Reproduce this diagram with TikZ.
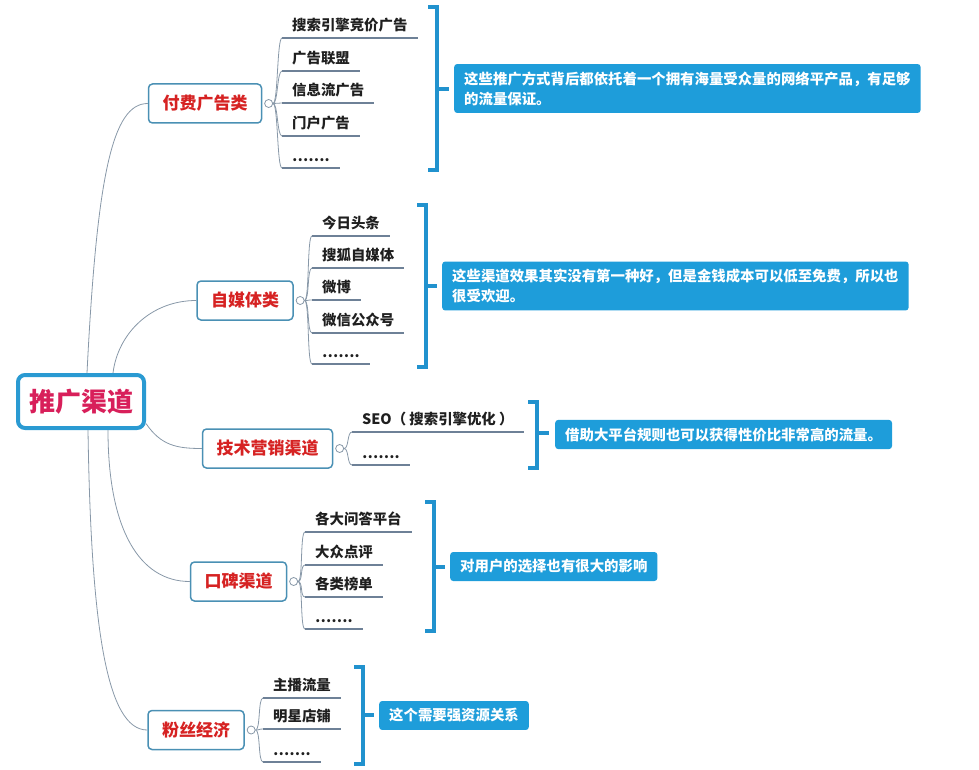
\documentclass[tikz,border=0pt]{standalone}
\usepackage{fontspec}
\setmainfont{Noto Sans CJK SC}
\usetikzlibrary{positioning}

\definecolor{rootblue}{HTML}{2A9AD2}
\definecolor{rootred}{HTML}{D81F5A}
\definecolor{boxline}{HTML}{4A90B4}
\definecolor{branchred}{HTML}{D62222}
\definecolor{linkgray}{HTML}{8898A8}
\definecolor{ulinegray}{HTML}{6E8197}
\definecolor{noteblue}{HTML}{1E9DDA}
\definecolor{braceblue}{HTML}{2192CE}

\tikzset{
  topic/.style={draw=rootblue, line width=4pt, rounded corners=7pt, fill=white,
    text=rootred, font=\fontsize{26}{30}\selectfont\bfseries,
    minimum width=126pt, minimum height=53pt},
  branch/.style={draw=boxline, line width=1.5pt, rounded corners=4pt, fill=white,
    text=branchred, font=\fontsize{17}{20}\selectfont\bfseries,
    inner xsep=14pt, minimum height=39pt},
  knob/.style={circle, draw=linkgray, fill=white, line width=0.8pt,
    minimum size=8pt, inner sep=0pt},
  leaf/.style={anchor=south west, inner xsep=10pt, inner ysep=6pt,
    font=\fontsize{14.4}{16}\selectfont\bfseries, text=black!88},
  uline/.style={draw=ulinegray, line width=2.7pt},
  link/.style={draw=linkgray, line width=0.8pt},
  bracket/.style={draw=braceblue, line width=4pt},
  note/.style={anchor=west, fill=noteblue, rounded corners=3pt, text=white,
    font=\fontsize{14.4}{20}\selectfont\bfseries, align=left,
    inner xsep=10pt, inner ysep=7.5pt}
}

\begin{document}
\begin{tikzpicture}[x=1pt, y=-1pt]
    \useasboundingbox (0,0) rectangle (979,770);

    % centre
    \node[topic] (root) at (81,401.5) {推广渠道};

    % branches
    \node[branch] (pay) at (205,103.5) {付费广告类};
    \node[branch] (media) at (245,300.5) {自媒体类};
    \node[branch] (tech) at (267.5,448.5) {技术营销渠道};
    \node[branch] (word) at (238.5,581.5) {口碑渠道};
    \node[branch] (fans) at (196,730) {粉丝经济};

    \node[knob, right=2pt of pay] (payk) { };
    \node[knob, right=2pt of media] (mediak) { };
    \node[knob, right=2pt of tech] (techk) { };
    \node[knob, right=2pt of word] (wordk) { };
    \node[knob, right=2pt of fans] (fansk) { };

    \draw[link] ([xshift=6pt]root.north) .. controls +(10,-200) and +(-35,0) .. (pay.west);
    \draw[link] ([xshift=32pt]root.north) .. controls +(5,-40) and +(-45,0) .. (media.west);
    \draw[link] ([yshift=-22pt]root.east) .. controls +(15,22) and +(-25,0) .. (tech.west);
    \draw[link] ([xshift=27pt]root.south) .. controls +(0,100) and +(-50,0) .. (word.west);
    \draw[link] ([xshift=7pt]root.south) .. controls +(3,200) and +(-40,0) .. (fans.west);

    % leaves
    \node[leaf] (pay1) at (282,38) {搜索引擎竞价广告};
    \node[leaf] (pay2) at (282,71) {广告联盟};
    \node[leaf] (pay3) at (282,103) {信息流广告};
    \node[leaf] (pay4) at (282,136) {门户广告};
    \node[leaf] (pay5) at (282,168) {…….};

    \node[leaf] (media1) at (312,236) {今日头条};
    \node[leaf] (media2) at (312,268) {搜狐自媒体};
    \node[leaf] (media3) at (312,300) {微博};
    \node[leaf] (media4) at (312,333) {微信公众号};
    \node[leaf] (media5) at (312,364) {…….};

    \node[leaf] (tech1) at (352,432) {SEO（ 搜索引擎优化 ）};
    \node[leaf] (tech2) at (352,465) {…….};

    \node[leaf] (word1) at (305,532) {各大问答平台};
    \node[leaf] (word2) at (305,565) {大众点评};
    \node[leaf] (word3) at (305,597) {各类榜单};
    \node[leaf] (word4) at (305,629) {…….};

    \node[leaf] (fans1) at (263,698) {主播流量};
    \node[leaf] (fans2) at (263,729) {明星店铺};
    \node[leaf] (fans3) at (263,762) {…….};

    \foreach \n in {pay1,pay2,pay3,pay4,pay5} {
        \draw[uline] (\n.south west) -- (\n.south east);
        \draw[link] (payk.east) .. controls +(5,0) and +(-5,0) .. (\n.south west);
    }
    \foreach \n in {media1,media2,media3,media4,media5} {
        \draw[uline] (\n.south west) -- (\n.south east);
        \draw[link] (mediak.east) .. controls +(5,0) and +(-5,0) .. (\n.south west);
    }
    \foreach \n in {tech1,tech2} {
        \draw[uline] (\n.south west) -- (\n.south east);
        \draw[link] (techk.east) .. controls +(5,0) and +(-5,0) .. (\n.south west);
    }
    \foreach \n in {word1,word2,word3,word4} {
        \draw[uline] (\n.south west) -- (\n.south east);
        \draw[link] (wordk.east) .. controls +(5,0) and +(-5,0) .. (\n.south west);
    }
    \foreach \n in {fans1,fans2,fans3} {
        \draw[uline] (\n.south west) -- (\n.south east);
        \draw[link] (fansk.east) .. controls +(5,0) and +(-5,0) .. (\n.south west);
    }

    % notes
    \node[note] (note1) at (454,88.5) {这些推广方式背后都依托着一个拥有海量受众量的网络平产品，有足够\\的流量保证。};
    \node[note] (note2) at (442,286) {这些渠道效果其实没有第一种好，但是金钱成本可以低至免费，所以也\\很受欢迎。};
    \node[note] (note3) at (555,434.5) {借助大平台规则也可以获得性价比非常高的流量。};
    \node[note] (note4) at (450,566.5) {对用户的选择也有很大的影响};
    \node[note] (note5) at (379,715.5) {这个需要强资源关系};

    % brackets
    \draw[bracket] (428,7) -- (437,7) -- (437,170) -- (428,170);
    \draw[bracket] (437,89) -- ([xshift=-5pt]note1.west |- 0,89);
    \draw[bracket] (417,205) -- (426,205) -- (426,367) -- (417,367);
    \draw[bracket] (426,286) -- ([xshift=-5pt]note2.west);
    \draw[bracket] (528,402) -- (537,402) -- (537,468) -- (528,468);
    \draw[bracket] (537,433) -- ([xshift=-6pt]note3.west |- 0,433);
    \draw[bracket] (425,502) -- (434,502) -- (434,631) -- (425,631);
    \draw[bracket] (434,567) -- ([xshift=-5pt]note4.west |- 0,567);
    \draw[bracket] (354,667) -- (363,667) -- (363,764) -- (354,764);
    \draw[bracket] (363,715) -- ([xshift=-5pt]note5.west |- 0,715);
\end{tikzpicture}
\end{document}
